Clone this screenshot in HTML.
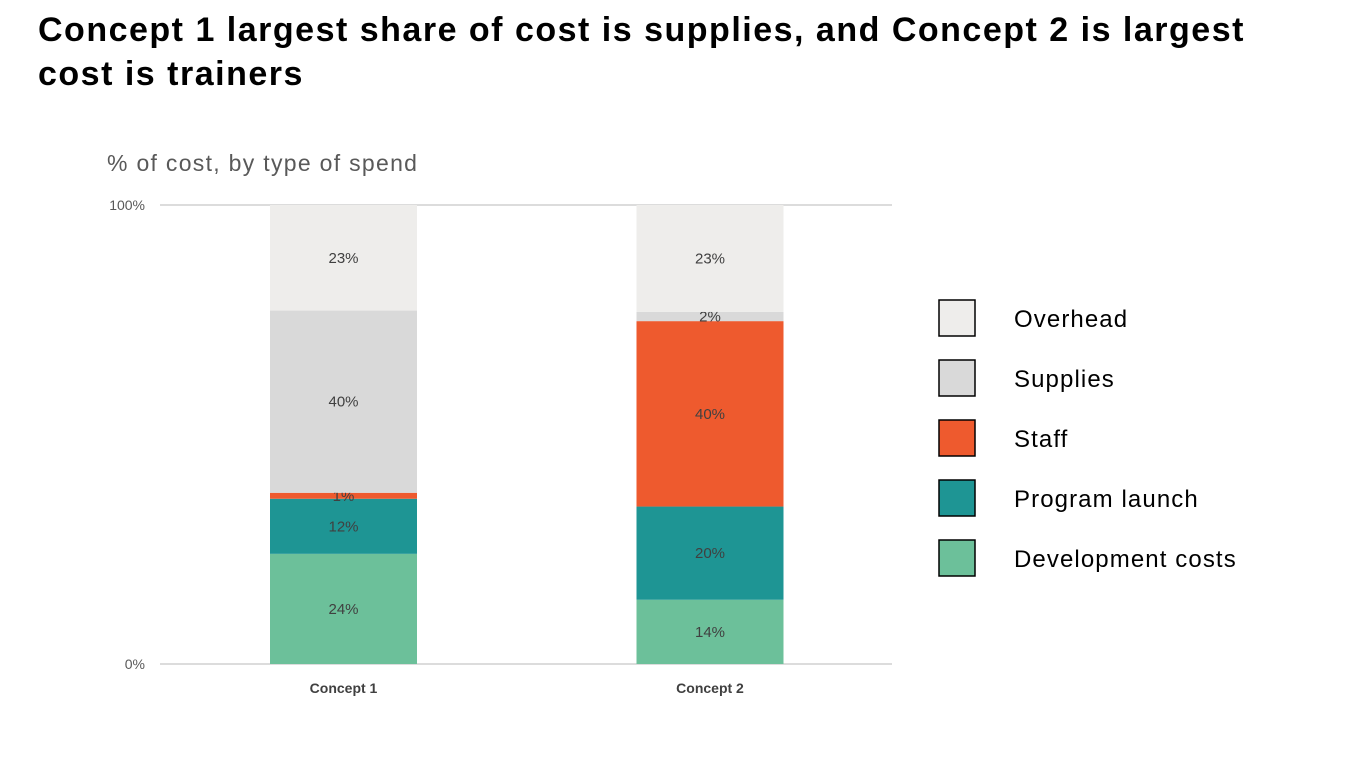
<!DOCTYPE html>
<html><head><meta charset="utf-8"><style>
body{margin:0;background:#fff;width:1345px;height:761px;overflow:hidden;font-family:"Liberation Sans",sans-serif;}
#title{position:absolute;left:38px;top:8px;font-size:34px;font-weight:bold;line-height:44px;color:#000;width:1300px;letter-spacing:1.5px;}
#sub{position:absolute;left:107px;top:150px;font-size:23px;color:#595959;letter-spacing:1.3px;}
svg{position:absolute;left:0;top:0;}
</style></head><body>
<div id="title">Concept 1 largest share of cost is supplies, and Concept 2 is largest<br>cost is trainers</div>
<div id="sub">% of cost, by type of spend</div>
<svg id="chart" width="1345" height="761"></svg>
<script>
const categories=["Concept 1","Concept 2"];
const seriesNames=["Development costs","Program launch","Staff","Supplies","Overhead"];
const devCosts=[24,14];
const programLaunch=[12,20.3];
const staff=[1.3,40.4];
const supplies=[39.7,2];
const overhead=[23,23.3];
const yTicks=[0,100];
const colors=["#6CC09A","#1E9594","#EE5A2E","#D9D9D9","#EEEDEB"];
const series=[devCosts,programLaunch,staff,supplies,overhead];
const NS="http://www.w3.org/2000/svg";
const svg=document.getElementById("chart");
const y0=664,y1=205,barW=147;
const centers=[343.5,710];
function y(v){return y0-(v/100)*(y0-y1);}
function mk(t,a){const e=document.createElementNS(NS,t);for(const k in a)e.setAttribute(k,a[k]);svg.appendChild(e);return e;}
yTicks.forEach(t=>{
  const l=mk("line",{x1:160,x2:892,y1:y(t),y2:y(t),stroke:"#D0D0D0","stroke-width":1.5});
  
  
  const tx=mk("text",{x:145,y:y(t)+5,"text-anchor":"end","font-size":14,fill:"#595959"});
  tx.textContent=t+"%";
  
  
});
categories.forEach((c,i)=>{
  let cum=0;
  series.forEach((s,j)=>{
    const v=s[i];
    const r=mk("rect",{x:centers[i]-barW/2,y:y(cum+v),width:barW,height:y(cum)-y(cum+v),fill:colors[j]});
    
    
    const t=mk("text",{x:centers[i],y:(y(cum)+y(cum+v))/2+5,"text-anchor":"middle","font-size":15,fill:"#404040"});
    t.textContent=Math.round(v)+"%";
    
    
    cum+=v;
  });
  const ct=mk("text",{x:centers[i],y:693,"text-anchor":"middle","font-size":14,"font-weight":"bold",fill:"#404040"});
  ct.textContent=c;
  
  
});
const order=[4,3,2,1,0];
order.forEach((j,k)=>{
  const cy=318+k*60;
  const r=mk("rect",{x:939,y:cy-18,width:36,height:36,fill:colors[j],stroke:"#000","stroke-width":1.5});
  
  
  const t=mk("text",{x:1014,y:cy+9,"font-size":24,fill:"#000","letter-spacing":"1.1"});
  t.textContent=seriesNames[j];
  
  
});
</script>
</body></html>
